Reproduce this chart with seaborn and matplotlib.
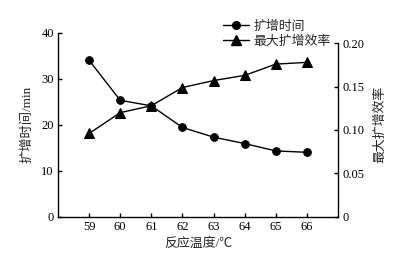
import matplotlib
matplotlib.use("Agg")
import matplotlib.pyplot as plt
import seaborn as sns
import pandas as pd
from matplotlib.lines import Line2D

temps = [59, 60, 61, 62, 63, 64, 65, 66]
amp_time = [34.0, 25.3, 24.1, 19.4, 17.3, 15.9, 14.3, 14.0]
max_eff = [0.096, 0.120, 0.128, 0.149, 0.157, 0.163, 0.176, 0.178]
left_ticks = [0, 10, 20, 30, 40]
right_ticks = [0, 0.05, 0.10, 0.15, 0.20]
right_labels = ["0", "0.05", "0.10", "0.15", "0.20"]
time_label = "扩增时间"
eff_label = "最大扩增效率"

sns.set_style("ticks")
fams = ["Liberation Serif", "Noto Sans CJK SC", "DejaVu Sans"]
plt.rcParams["font.family"] = fams
plt.rcParams["font.size"] = 9
plt.rcParams["axes.unicode_minus"] = False

df = pd.DataFrame({"temp": temps, "time": amp_time, "eff": max_eff})

fig = plt.figure(figsize=(3.93, 2.61), dpi=100)
ax = fig.add_axes([58/393, 1-216.7/261, (338-58)/393, (216.7-32.7)/261])
ax2 = ax.twinx()

sns.lineplot(data=df, x="temp", y="time", ax=ax, color="black", marker="o",
             markersize=5.5, linewidth=1, markeredgecolor="black", label=time_label, legend=False)
sns.lineplot(data=df, x="temp", y="eff", ax=ax2, color="black", marker="^",
             markersize=6.5, linewidth=1, markeredgecolor="black", label=eff_label, legend=False)

ax.set_xlim(58, 67)
ax.set_ylim(0, 40)
ax.set_xticks(temps)
ax.set_yticks(left_ticks)
ax.set_xticklabels([str(t) for t in temps])
ax2.set_ylim(0, 0.2 * 184 / 173.4)
ax2.set_yticks(right_ticks)
ax2.set_yticklabels(right_labels)
ax2.spines["right"].set_bounds(0, 0.2)

for a in (ax, ax2):
    a.spines["top"].set_visible(False)
    for s in a.spines.values():
        s.set_linewidth(1)
        s.set_color("black")
    a.tick_params(direction="in", length=3, width=1, labelsize=9, colors="black", pad=3)
ax.spines["right"].set_visible(False)
ax2.spines["left"].set_visible(False)
ax2.spines["bottom"].set_visible(False)

ax.set_xlabel("反应温度/℃", fontsize=9.3, labelpad=3)
ax.set_ylabel("扩增时间/min", fontsize=9.5, labelpad=6)
ax2.set_ylabel(eff_label, fontsize=9.3, labelpad=7)

handles = [
    Line2D([], [], color="black", marker="o", markersize=5.5, linewidth=1),
    Line2D([], [], color="black", marker="^", markersize=6.5, linewidth=1),
]
fig.legend(handles, [time_label, eff_label], loc="upper left",
           bbox_to_anchor=(217/393, 1-14/261), frameon=False, fontsize=9.3,
           handlelength=2.0, handletextpad=0.3, labelspacing=0.2, borderpad=0)

fig.savefig("out.png", dpi=100)
